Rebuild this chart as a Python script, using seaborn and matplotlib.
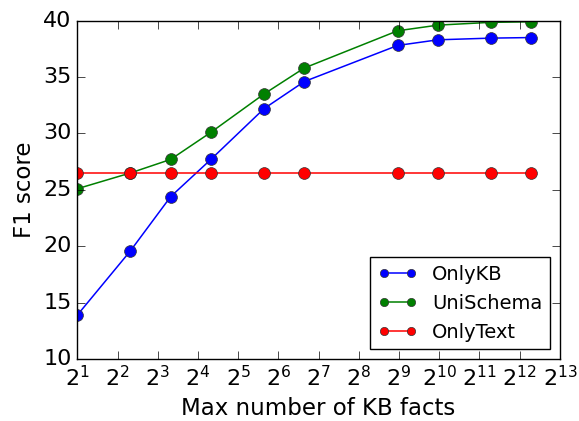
import matplotlib
matplotlib.use("Agg")
import matplotlib.pyplot as plt
import matplotlib.ticker as mticker
import seaborn as sns
import pandas as pd

kb_facts = [2, 5, 10, 20, 50, 100, 500, 1000, 2500, 5000]
only_kb = [13.9, 19.6, 24.4, 27.7, 32.2, 34.6, 37.8, 38.3, 38.45, 38.5]
unischema = [25.1, 26.5, 27.7, 30.1, 33.5, 35.8, 39.1, 39.6, 39.85, 39.9]
only_text = [26.5, 26.5, 26.5, 26.5, 26.5, 26.5, 26.5, 26.5, 26.5, 26.5]
series_names = ["OnlyKB", "UniSchema", "OnlyText"]
series_colors = ["#0000ff", "#008000", "#ff0000"]
x_ticks = [2 ** k for k in range(1, 14)]
y_ticks = [10, 15, 20, 25, 30, 35, 40]

sns.set_style("ticks")
plt.style.use("classic")
plt.rcParams["figure.facecolor"] = "white"
plt.rcParams["savefig.facecolor"] = "white"
plt.rcParams["mathtext.fontset"] = "dejavusans"
plt.rcParams["font.family"] = ["DejaVu Sans"]

fig = plt.figure(figsize=(5.79, 4.21), dpi=100)
ax = fig.add_axes([0.1335, 0.147, 0.967 - 0.1335, 0.951 - 0.147])

for name, vals, col in zip(series_names, [only_kb, unischema, only_text], series_colors):
    df = pd.DataFrame({"x": kb_facts, "y": vals})
    sns.lineplot(data=df, x="x", y="y", ax=ax, color=col, marker="o",
                 markersize=8.5, linewidth=1.1, label=name,
                 markeredgecolor="#333333", markeredgewidth=0.5)

ax.set_xscale("log", base=2)
ax.set_xlim(2, 2 ** 13)
ax.set_ylim(10, 40)
ax.set_xticks(x_ticks)
ax.xaxis.set_major_formatter(mticker.LogFormatterMathtext(base=2))
ax.xaxis.set_minor_locator(mticker.NullLocator())
ax.set_yticks(y_ticks)
ax.tick_params(axis="both", which="major", labelsize=16, direction="in",
               top=True, right=True, length=6)
ax.set_xlabel("Max number of KB facts", fontsize=16.5)
ax.set_ylabel("F1 score", fontsize=16.5)

leg = ax.legend(loc="lower right", fontsize=14, numpoints=2, fancybox=False,
                markerscale=0.7, borderaxespad=0.5)
leg.get_frame().set_edgecolor("black")

fig.savefig("out.png", dpi=100)
